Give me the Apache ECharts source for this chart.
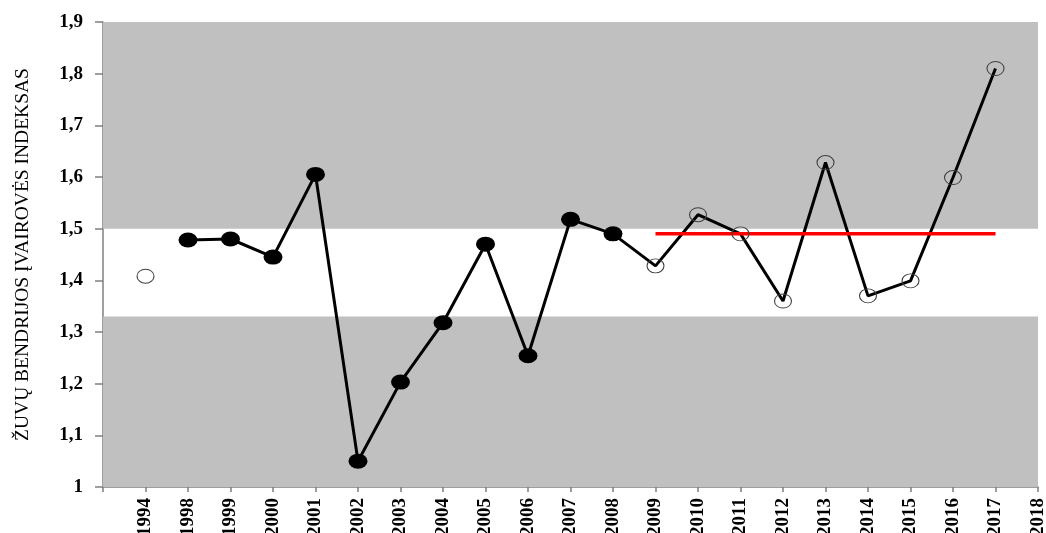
<!DOCTYPE html>
<html><head><meta charset="utf-8">
<script src="https://cdn.jsdelivr.net/npm/echarts@6/dist/echarts.min.js"></script>
<style>html,body{margin:0;padding:0;background:#fff}#c{width:1046px;height:533px}</style>
</head><body><div id="c"></div>
<script>
const categories = ['', '1994','1998','1999','2000','2001','2002','2003','2004','2005','2006','2007','2008','2009','2010','2011','2012','2013','2014','2015','2016','2017','2018'];
const filledYears = ['1998','1999','2000','2001','2002','2003','2004','2005','2006','2007','2008'];
const filledValues = [1.478,1.48,1.445,1.605,1.05,1.203,1.318,1.47,1.254,1.518,1.49];
const openYears = ['1994','2009','2010','2011','2012','2013','2014','2015','2016','2017'];
const openValues = [1.408,1.428,1.527,1.49,1.36,1.628,1.37,1.399,1.599,1.81];
const lineYears = ['1998','1999','2000','2001','2002','2003','2004','2005','2006','2007','2008','2009','2010','2011','2012','2013','2014','2015','2016','2017'];
const lineValues = [1.478,1.48,1.445,1.605,1.05,1.203,1.318,1.47,1.254,1.518,1.49,1.428,1.527,1.49,1.36,1.628,1.37,1.399,1.599,1.81];
const refYears = ['2009','2017'];
const refValue = 1.49;
const bandUpper = [1.5, 1.9];
const bandLower = [1.0, 1.33];
const yTitle = 'ŽUVŲ BENDRIJOS ĮVAIROVĖS INDEKSAS';

const chart = echarts.init(document.getElementById('c'));
const serif = '"Liberation Serif", "DejaVu Serif", serif';
chart.setOption({
  animation: false,
  backgroundColor: '#fff',
  grid: { left: 103, right: 8, top: 22, bottom: 46, containLabel: false, outerBoundsMode: 'none' },
  xAxis: {
    type: 'category', data: categories, boundaryGap: false,
    axisLine: { lineStyle: { color: '#7f7f7f', width: 1.5 } },
    axisTick: { show: true, length: 5, alignWithLabel: true, interval: 0, lineStyle: { color: '#7f7f7f', width: 1.5 } },
    axisLabel: { interval: 0, rotate: 90, margin: 11, fontFamily: serif, fontWeight: 'bold', fontSize: 19, color: '#000' },
    splitLine: { show: false }
  },
  yAxis: {
    type: 'value', min: 1, max: 1.9, interval: 0.1,
    name: yTitle, nameLocation: 'middle', nameGap: 70, nameRotate: 90,
    nameTextStyle: { fontFamily: serif, fontSize: 19.5, color: '#000' },
    axisLine: { show: true, lineStyle: { color: '#7f7f7f', width: 1.5 } },
    axisTick: { show: true, length: 8, lineStyle: { color: '#7f7f7f', width: 1.5 } },
    axisLabel: { margin: 20, fontFamily: serif, fontWeight: 'bold', fontSize: 19, color: '#000',
      formatter: v => String(Math.round(v * 10) / 10).replace('.', ',') },
    splitLine: { show: false }
  },
  series: [
    {
      type: 'line', data: lineYears.map((y, i) => [y, lineValues[i]]), symbol: 'none',
      lineStyle: { color: '#000', width: 3 }, z: 3,
      markArea: {
        silent: true,
        itemStyle: { color: '#c0c0c0', opacity: 1 },
        data: [
          [{ yAxis: bandUpper[0] }, { yAxis: bandUpper[1] }],
          [{ yAxis: bandLower[0] }, { yAxis: bandLower[1] }]
        ]
      }
    },
    {
      type: 'line', data: refYears.map(y => [y, refValue]), symbol: 'none',
      lineStyle: { color: '#ff0000', width: 3.5 }, z: 4
    },
    {
      type: 'scatter', data: filledYears.map((y, i) => [y, filledValues[i]]),
      symbol: 'circle', symbolSize: [19, 15], itemStyle: { color: '#000', opacity: 1 }, z: 5
    },
    {
      type: 'scatter', data: openYears.map((y, i) => [y, openValues[i]]),
      symbol: 'circle', symbolSize: [17, 14],
      itemStyle: { color: 'rgba(0,0,0,0)', borderColor: '#404040', borderWidth: 1, opacity: 1 }, z: 5
    }
  ]
});
</script></body></html>
